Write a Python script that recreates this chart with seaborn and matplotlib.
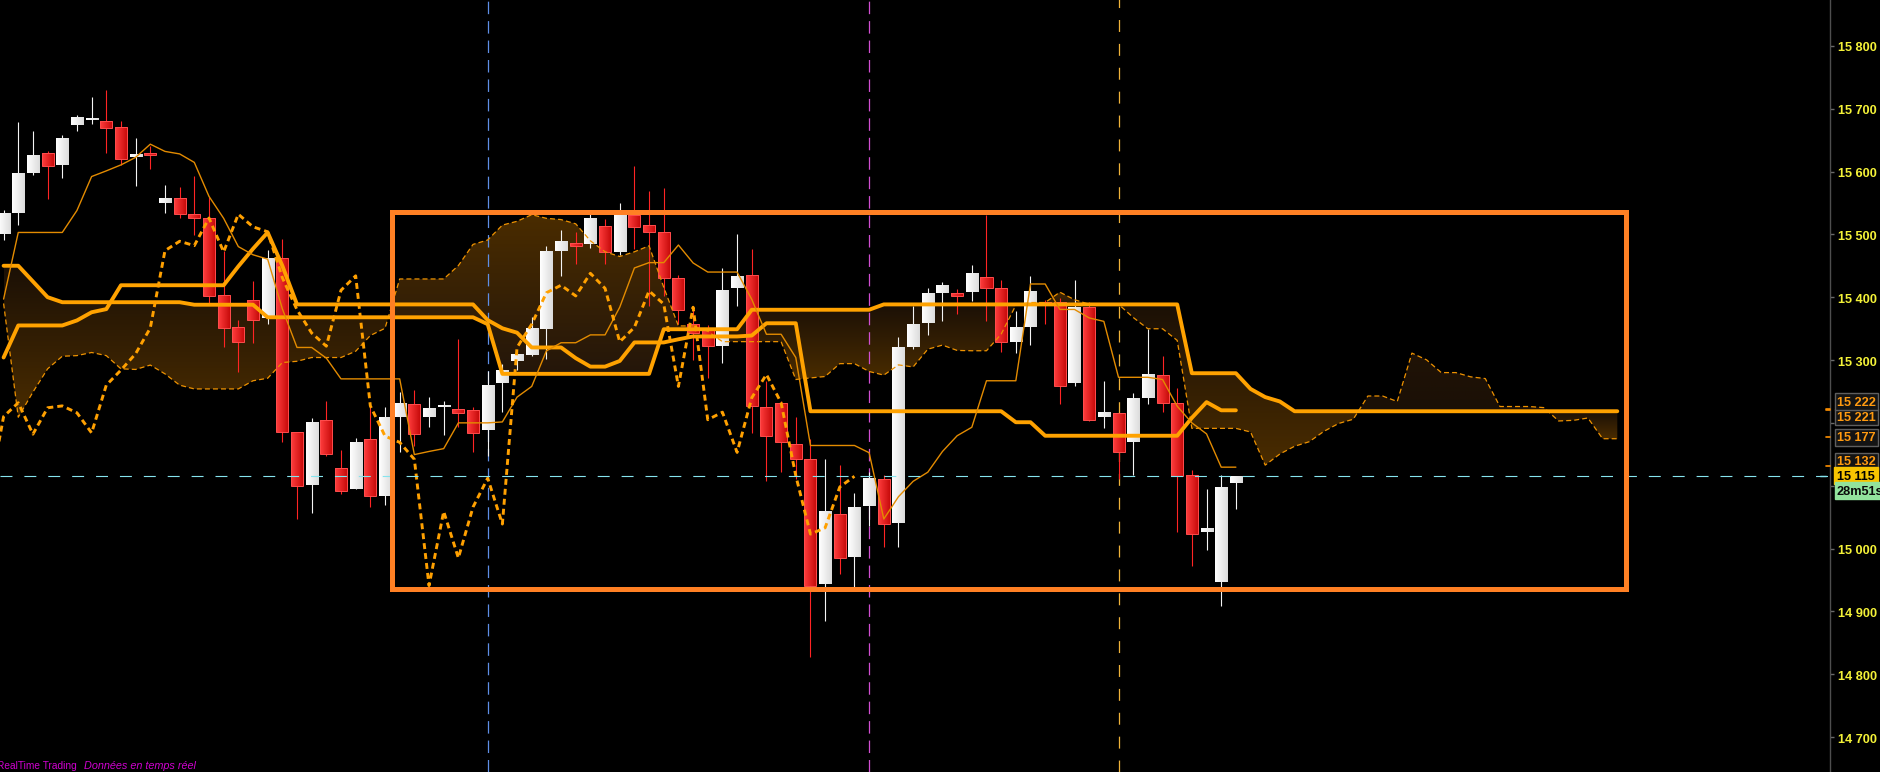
import numpy as np
import matplotlib
matplotlib.use("Agg")
import matplotlib.pyplot as plt
import matplotlib.transforms as mtransforms
from matplotlib.colors import LinearSegmentedColormap
from matplotlib.patches import PathPatch, Rectangle
import seaborn as sns

# ---------------- data ----------------
opens = [15500, 15534, 15598, 15629, 15611, 15674, 15682, 15680, 15671, 15623,
         15628, 15550, 15558, 15532, 15526, 15403, 15353, 15396, 15367, 15462,
         15185, 15101, 15205, 15128, 15095, 15174, 15084, 15210, 15230, 15210,
         15225, 15222, 15220, 15188, 15264, 15299, 15308, 15349, 15474, 15487,
         15485, 15513, 15472, 15531, 15515, 15504, 15430, 15357, 15347, 15323,
         15414, 15436, 15226, 15231, 15166, 15142, 14944, 15055, 14987, 15067,
         15111, 15040, 15321, 15359, 15407, 15407, 15409, 15432, 15414, 15329,
         15353, 15393, 15392, 15264, 15384, 15210, 15215, 15170, 15240, 15276,
         15232, 15117, 15027, 14947, 15104]
highs = [15538, 15678, 15664, 15632, 15658, 15690, 15718, 15730, 15680, 15654,
         15640, 15579, 15575, 15593, 15559, 15474, 15364, 15426, 15475, 15493,
         15186, 15208, 15235, 15157, 15176, 15225, 15225, 15249, 15252, 15241,
         15234, 15334, 15225, 15283, 15294, 15315, 15368, 15481, 15507, 15503,
         15532, 15524, 15550, 15609, 15569, 15574, 15435, 15383, 15355, 15446,
         15500, 15477, 15266, 15234, 15210, 15175, 15142, 15133, 15089, 15122,
         15117, 15337, 15386, 15415, 15424, 15413, 15451, 15531, 15427, 15378,
         15434, 15396, 15398, 15427, 15392, 15266, 15216, 15248, 15350, 15306,
         15256, 15125, 15095, 15117, 15115]
lows = [15491, 15515, 15595, 15557, 15590, 15665, 15676, 15630, 15611, 15577,
        15604, 15534, 15526, 15499, 15391, 15321, 15281, 15327, 15357, 15170,
        15047, 15057, 15148, 15087, 15094, 15066, 15069, 15154, 15163, 15194,
        15181, 15193, 15153, 15148, 15218, 15284, 15307, 15301, 15433, 15453,
        15479, 15453, 15467, 15477, 15386, 15402, 15357, 15300, 15271, 15296,
        15386, 15184, 15108, 15122, 15110, 14828, 14885, 14960, 14935, 15036,
        15003, 15003, 15318, 15340, 15362, 15373, 15394, 15362, 15313, 15311,
        15324, 15357, 15230, 15258, 15203, 15192, 15111, 15117, 15230, 15218,
        15026, 14973, 14998, 14909, 15063]
closes = [15534, 15598, 15626, 15608, 15653, 15687, 15684, 15670, 15620, 15628,
          15626, 15558, 15533, 15526, 15402, 15351, 15329, 15364, 15462, 15186,
          15100, 15202, 15151, 15092, 15170, 15084, 15210, 15232, 15182, 15224,
          15227, 15216, 15184, 15260, 15284, 15310, 15351, 15474, 15489, 15482,
          15526, 15472, 15532, 15512, 15504, 15431, 15380, 15343, 15322, 15411,
          15434, 15227, 15179, 15169, 15142, 14941, 15059, 14985, 15066, 15112,
          15039, 15320, 15357, 15407, 15419, 15402, 15438, 15414, 15329, 15352,
          15410, 15389, 15258, 15384, 15205, 15217, 15153, 15240, 15277, 15232,
          15116, 15023, 15033, 15098, 15115]

tenkan = [15397, 15503, 15503, 15503, 15503, 15538, 15592, 15601, 15610.5, 15622.5,
          15643.5, 15632, 15628, 15614.5, 15560.5, 15525.5, 15480.5, 15467.5, 15460.5, 15381.5,
          15320, 15320, 15303, 15270, 15270, 15270, 15270, 15270, 15149.5, 15154.5,
          15159, 15200, 15200, 15200, 15201.5, 15241, 15258, 15314.5, 15327.5, 15327.5,
          15340, 15340, 15384, 15446.5, 15455, 15455, 15483, 15454.5, 15440, 15440,
          15440, 15396.5, 15341, 15341, 15304, 15164, 15164, 15164, 15164, 15152.5,
          15047, 15082.5, 15107, 15121.5, 15154.5, 15179.5, 15193, 15267, 15267, 15267,
          15421, 15421, 15380.5, 15380.5, 15367, 15361.5, 15272.5, 15272.5, 15272.5, 15269,
          15226.5, 15200, 15182.5, 15129.5, 15129.5]
kijun = [15304, 15355, 15355, 15355, 15355, 15363, 15376, 15381, 15419, 15419,
         15419, 15419, 15419, 15419, 15419, 15419, 15449, 15477, 15503, 15450,
         15388.5, 15388.5, 15388.5, 15388.5, 15388.5, 15388.5, 15388.5, 15388.5, 15388.5, 15388.5,
         15388.5, 15388.5, 15388.5, 15363.5, 15350.5, 15343.5, 15320, 15320, 15320, 15303,
         15289.5, 15289.5, 15298.5, 15328, 15328, 15328, 15333, 15337.5, 15337.5, 15337.5,
         15337.5, 15339, 15358.5, 15358.5, 15358.5, 15218.5, 15218.5, 15218.5, 15218.5, 15218.5,
         15218.5, 15218.5, 15218.5, 15218.5, 15218.5, 15218.5, 15218.5, 15218.5, 15218.5, 15201,
         15201, 15179.5, 15179.5, 15179.5, 15179.5, 15179.5, 15179.5, 15179.5, 15179.5, 15179.5,
         15179.5, 15208, 15233, 15220, 15220]
senkou_a = [15390, 15209, 15249, 15286, 15306, 15307, 15312, 15307, 15286, 15285,
            15292, 15278, 15260, 15254, 15254, 15254, 15254, 15267, 15271, 15296,
            15298, 15304, 15304, 15304, 15314, 15339, 15350.5, 15429, 15429, 15429,
            15429, 15450.3, 15484, 15491, 15514.75, 15520.75, 15531.25, 15525.5, 15523.5, 15516.75,
            15489.75, 15472.25, 15464.75, 15472.25, 15481.75, 15415.75, 15354.25, 15354.25, 15345.75, 15329.25,
            15329.25, 15329.25, 15329.25, 15329.25, 15269, 15271.5, 15273.75, 15294.25, 15294.25, 15281.75,
            15276, 15292.25, 15289, 15317.25, 15323.75, 15315.25, 15314.75, 15314.75, 15341.25, 15387.25,
            15391.5, 15391.5, 15408, 15396, 15388.75, 15388.75, 15388.75, 15367.75, 15349.75, 15349.75,
            15331.25, 15191.25, 15191.25, 15191.25, 15191.25, 15185.5, 15132.75, 15150.5, 15162.75, 15170,
            15186.5, 15199, 15205.75, 15242.75, 15242.75, 15234, 15311, 15300.25, 15280, 15280,
            15273.25, 15270.5, 15226, 15226, 15226, 15224.25, 15203, 15204, 15207.75, 15174.75,
            15174.75]
senkou_b = ([15450, 15450, 15425, 15400] + [15392] * 9 + [15388] * 5 + [15368] * 15 +
            [15357] + [15278] * 11 + [15349] * 6 + [15380] * 9 + [15388.5] * 21 +
            [15279] * 4 + [15254, 15241, 15234] + [15218.5] * 23)

price_ticks = [14700, 14800, 14900, 15000, 15100, 15200, 15300, 15400, 15500, 15600, 15700, 15800]
price_tick_labels = ["14 700", "14 800", "14 900", "15 000", "", "", "15 300",
                     "15 400", "15 500", "15 600", "15 700", "15 800"]
level_values = [15132, 15177, 15221, 15222]
level_labels = ["15 132", "15 177", "15 221", "15 222"]
last_price = 15115
last_price_label = "15 115"
timer_label = "28m51s"
marker_bars = [33, 59, 76]
zone = {"start": 26.5, "end": 110.6, "low": 14936, "high": 15535}
shift = 26

# ---------------- style ----------------
sns.set_theme(style="dark", rc={"axes.facecolor": "black", "figure.facecolor": "black",
                                "axes.grid": False})
plt.rcParams['font.family'] = ['Liberation Sans', 'DejaVu Sans']
plt.rcParams['lines.scale_dashes'] = False

W, H = 1881, 773
AXW = 1830
fig = plt.figure(figsize=(18.81, 7.7299), dpi=100, facecolor='black')
ax = fig.add_axes([0, 0, AXW / W, 1])
ax.set_facecolor('black')
ax.grid(False)

o = np.array(opens, float); h = np.array(highs, float)
l = np.array(lows, float); c = np.array(closes, float)
n = len(o)
xi = np.arange(n)

# ---------------- cloud (gradient fill) ----------------
A = np.array(senkou_a, float); B = np.array(senkou_b, float)
xc = np.arange(len(A))
DARK = '#1b1006'
BRIGHT = '#4a2c00'
grad_v = np.linspace(0, 1, 128).reshape(-1, 1)
for where, bullish in [(A >= B, True), (A <= B, False)]:
    coll = ax.fill_between(xc, A, B, where=where, interpolate=True, color='none', lw=0)
    for path in coll.get_paths():
        v = path.vertices
        x0, x1 = v[:, 0].min(), v[:, 0].max()
        y0, y1 = v[:, 1].min(), v[:, 1].max()
        if x1 - x0 <= 1e-6 or y1 - y0 <= 1e-6:
            continue
        if bullish and x0 > n - 1:
            cols = [DARK, '#201306']
        elif bullish:
            cols = ['#24160a', BRIGHT]
        else:
            cols = [BRIGHT, DARK]
        cmap = LinearSegmentedColormap.from_list('cg', cols)
        im = ax.imshow(grad_v, cmap=cmap, origin='lower', extent=(x0, x1, y0, y1),
                       aspect='auto', interpolation='bilinear', zorder=1)
        im.set_clip_path(PathPatch(path, transform=ax.transData, fc='none', ec='none'))
    coll.remove()

# ---------------- vertical markers ----------------
vcols = ['#5f8fe6', '#d24fd2', '#efb23a']
vdash = [(0, (9, 5)), (0, (9, 5)), (0, (8.6, 8.6))]
for idx, col, ds in zip(marker_bars, vcols, vdash):
    ax.axvline(idx, color=col, lw=0.9, ls=ds, zorder=1.5)

# ---------------- candles ----------------
bull = c >= o
body_lo = np.minimum(o, c)
body_h = np.maximum(np.abs(c - o), 3.0)
wick_cols = ['#f4f4f4' if b else '#ff2424' for b in bull]
ax.vlines(xi, l, h, colors=wick_cols, lw=0.8, zorder=2)
edge_cols = ['none' if b else '#ff4d4d' for b in bull]
bars = ax.bar(xi, body_h, bottom=body_lo, width=0.82, color='none',
              edgecolor=edge_cols, linewidth=0.7, zorder=3.5)
white_cmap = LinearSegmentedColormap.from_list('wc', ['#ffffff', '#dcdcdc'])
red_cmap = LinearSegmentedColormap.from_list('rc', ['#ff3d3d', '#c40808'])
grad_h = np.linspace(0, 1, 32).reshape(1, -1)
for bar, isbull in zip(bars, bull):
    bx, by, bw, bh = bar.get_x(), bar.get_y(), bar.get_width(), bar.get_height()
    im = ax.imshow(grad_h, cmap=white_cmap if isbull else red_cmap, origin='lower',
                   extent=(bx, bx + bw, by, by + bh), aspect='auto',
                   interpolation='bilinear', zorder=3)
    im.set_clip_path(bar)

# ---------------- ichimoku lines (seaborn) ----------------
sns.lineplot(x=xc, y=A, ax=ax, color='#ee9200', linewidth=0.9, linestyle=(0, (3.6, 2.2)),
             estimator=None, errorbar=None, legend=False, zorder=4)
sns.lineplot(x=xc, y=B, ax=ax, color='#ffa200', linewidth=2.8,
             estimator=None, errorbar=None, legend=False, zorder=4.2)
sns.lineplot(x=xi, y=np.array(kijun), ax=ax, color='#ffa200', linewidth=2.8,
             estimator=None, errorbar=None, legend=False, zorder=4.3)
sns.lineplot(x=xi, y=np.array(tenkan), ax=ax, color='#e38b00', linewidth=1.0,
             estimator=None, errorbar=None, legend=False, zorder=4.4)
cx = xi[shift - 1:] - shift
cy = c[shift - 1:]
sns.lineplot(x=cx, y=cy, ax=ax, color='#ffa000', linewidth=2.1, linestyle=(0, (4.3, 2.9)),
             estimator=None, errorbar=None, legend=False, zorder=4.5)

# ---------------- last price line ----------------
ax.axhline(last_price, color='#86e4ee', lw=0.8, ls=(0, (8.6, 8.6)), zorder=4.6)
blend = mtransforms.blended_transform_factory(ax.transAxes, ax.transData)
ax.plot([1 - 10 / AXW, 1 - 4 / AXW], [last_price, last_price], transform=blend,
        color='#86e4ee', lw=1.0, clip_on=False, zorder=9)

# ---------------- zone rectangle ----------------
ax.add_patch(Rectangle((zone["start"], zone["low"]), zone["end"] - zone["start"],
                       zone["high"] - zone["low"], fill=False, ec='#ff8024', lw=3.6,
                       joinstyle='miter', zorder=6))

# ---------------- axes ----------------
ax.set_xlim(-0.245, (AXW - 3.6) / 14.67)
ax.set_ylim(14644.4, 15874.5)
ax.set_xticks([])
ax.set_xlabel(''); ax.set_ylabel('')
ax.yaxis.tick_right()
ax.set_yticks(price_ticks)
ax.set_yticklabels(price_tick_labels)
ax.tick_params(axis='y', right=True, left=False, labelright=True, labelleft=False,
               colors='#6a6a6a', labelcolor='#f4f238', length=3.2, width=1,
               labelsize=9.2, pad=2.5)
for lbl in ax.get_yticklabels():
    lbl.set_fontweight('bold')
for s in ['top', 'left', 'bottom']:
    ax.spines[s].set_visible(False)
ax.spines['right'].set_color('#4e4e4e')
ax.spines['right'].set_linewidth(1.0)

# level markers and boxes on the price scale
level_box_y = [15138.5, 15177.0, 15209.3, 15233.7]
for lv in level_values:
    ax.plot([1 - 4 / AXW, 1], [lv, lv], transform=blend, color='#ff9000', lw=1.2,
            clip_on=False, zorder=9)
for txt, yb in zip(level_labels, level_box_y):
    ax.annotate(txt, xy=(1, yb), xycoords=blend, xytext=(7, 0), textcoords='offset pixels',
                ha='left', va='center', fontsize=9.2, fontweight='bold', color='#ff9a10',
                bbox=dict(boxstyle='square,pad=0.18', fc='#141414', ec='#5e5e5e', lw=1),
                annotation_clip=False, zorder=10)
ax.annotate(last_price_label, xy=(1, 15116.2), xycoords=blend, xytext=(7, 0),
            textcoords='offset pixels', ha='left', va='center', fontsize=9.2,
            fontweight='bold', color='#000000',
            bbox=dict(boxstyle='square,pad=0.22', fc='#f7c400', ec='#f7c400', lw=1),
            annotation_clip=False, zorder=11)
ax.annotate(timer_label, xy=(1, 15092), xycoords=blend, xytext=(7, 0),
            textcoords='offset pixels', ha='left', va='center', fontsize=9.2,
            fontweight='bold', color='#0a0a0a',
            bbox=dict(boxstyle='square,pad=0.18', fc='#92e39c', ec='#92e39c', lw=1),
            annotation_clip=False, zorder=11)

# footer text
fig.text(-3 / W, 4 / H, "RealTime Trading", color='#d000d0', fontsize=7.3,
         va='baseline', ha='left')
fig.text(84 / W, 4 / H, "Données en temps réel", color='#d000d0', fontsize=7.8,
         style='italic', va='baseline', ha='left')

fig.savefig('out.png', dpi=100, facecolor='black')
